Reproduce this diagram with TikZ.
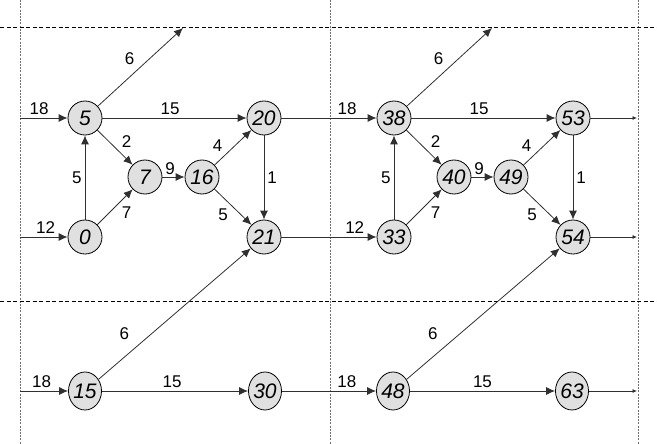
\documentclass[tikz,border=0pt]{standalone}
\usepackage{fontspec}
\setmainfont{Liberation Sans}
\usetikzlibrary{arrows.meta,shapes.geometric}
\definecolor{statefill}{HTML}{E0E0E0}
\definecolor{edgegray}{HTML}{303030}
\definecolor{cutgray}{HTML}{707070}

\begin{document}
\begin{tikzpicture}[x=1pt, y=-1pt,
    state/.style={draw, circle, fill=statefill, minimum size=34pt, inner sep=0pt,
                  line width=0.8pt, font=\fontsize{21}{21}\selectfont\itshape},
    tall/.style={state, ellipse, minimum width=33pt, minimum height=38pt},
    flow/.style={draw=edgegray, line width=0.8pt, -{Latex[length=9pt,width=8pt]}},
    exit/.style={draw=edgegray, line width=0.8pt, -{Latex[length=4.5pt,width=4pt]}},
    lbl/.style={font=\fontsize{17}{17}\selectfont, inner sep=3pt},
    vcut/.style={cutgray, line width=1pt, dash pattern=on 2pt off 1.2pt},
    hcut/.style={black, line width=0.8pt, dash pattern=on 4pt off 2.5pt}]
  \useasboundingbox (0,0) rectangle (657,444);
  % cut lines
  \foreach \gx in {20,330,638}
    \draw[vcut] (\gx,0) -- (\gx,444);
  \foreach \gy in {27,301}
    \draw[hcut] (0,\gy) -- (657,\gy);

  % free ends
  \coordinate (in5) at (20,118);
  \coordinate (in0) at (20,237);
  \coordinate (in15) at (20,391);
  \coordinate (out53) at (637,118);
  \coordinate (out54) at (637,237);
  \coordinate (out63) at (637,391);

  % upper blocks, same shape twice
  \foreach \ox/\a/\b/\c/\d/\e/\f in {0/5/0/7/16/20/21, 309/38/33/40/49/53/54} {
    \node[state] (n\a) at (85+\ox,118) {\a};
    \node[state] (n\b) at (85+\ox,237) {\b};
    \node[state] (n\c) at (145+\ox,177) {\c};
    \node[state] (n\d) at (202+\ox,177) {\d};
    \node[state] (n\e) at (264+\ox,118) {\e};
    \node[state] (n\f) at (264+\ox,237) {\f};
    \coordinate (up\a) at (183+\ox,28);
    \draw[flow] (n\a) -- node[lbl, pos=.48, anchor=south east, inner sep=4pt] {6} (up\a);
    \draw[flow] (n\a) -- node[lbl, pos=.47, above] {15} (n\e);
    \draw[flow] (n\a) -- node[lbl, pos=.6, above right] {2} (n\c);
    \draw[flow] (n\b) -- node[lbl, left] {5} (n\a);
    \draw[flow] (n\b) -- node[lbl, pos=.6, below right] {7} (n\c);
    \draw[flow] (n\c) -- node[lbl, pos=.35, above, inner sep=1.5pt] {9} (n\d);
    \draw[flow] (n\d) -- node[lbl, pos=.3, above left] {4} (n\e);
    \draw[flow] (n\d) -- node[lbl, pos=.45, below left] {5} (n\f);
    \draw[flow] (n\e) -- node[lbl, right] {1} (n\f);
  }

  % lower row
  \node[tall] (n15) at (85,391) {15};
  \node[tall] (n30) at (265,391) {30};
  \node[tall] (n48) at (393,391) {48};
  \node[tall] (n63) at (572,391) {63};

  % links between blocks
  \draw[flow] (in5) -- node[lbl, pos=.4, above] {18} (n5);
  \draw[flow] (in0) -- node[lbl, pos=.54, above] {12} (n0);
  \draw[flow] (n20) -- node[lbl, pos=.69, above] {18} (n38);
  \draw[flow] (n21) -- node[lbl, pos=.77, above] {12} (n33);
  \draw[exit] (n53) -- (out53);
  \draw[exit] (n54) -- (out54);

  \draw[flow] (in15) -- node[lbl, pos=.45, above] {18} (n15);
  \draw[flow] (n15) -- node[lbl, pos=.48, above] {15} (n30);
  \draw[flow] (n15) -- node[lbl, pos=.25, anchor=south east, inner sep=7pt] {6} (n21);
  \draw[flow] (n30) -- node[lbl, pos=.69, above] {18} (n48);
  \draw[flow] (n48) -- node[lbl, pos=.5, above] {15} (n63);
  \draw[flow] (n48) -- node[lbl, pos=.25, anchor=south east, inner sep=7pt] {6} (n54);
  \draw[exit] (n63) -- (out63);
\end{tikzpicture}
\end{document}
